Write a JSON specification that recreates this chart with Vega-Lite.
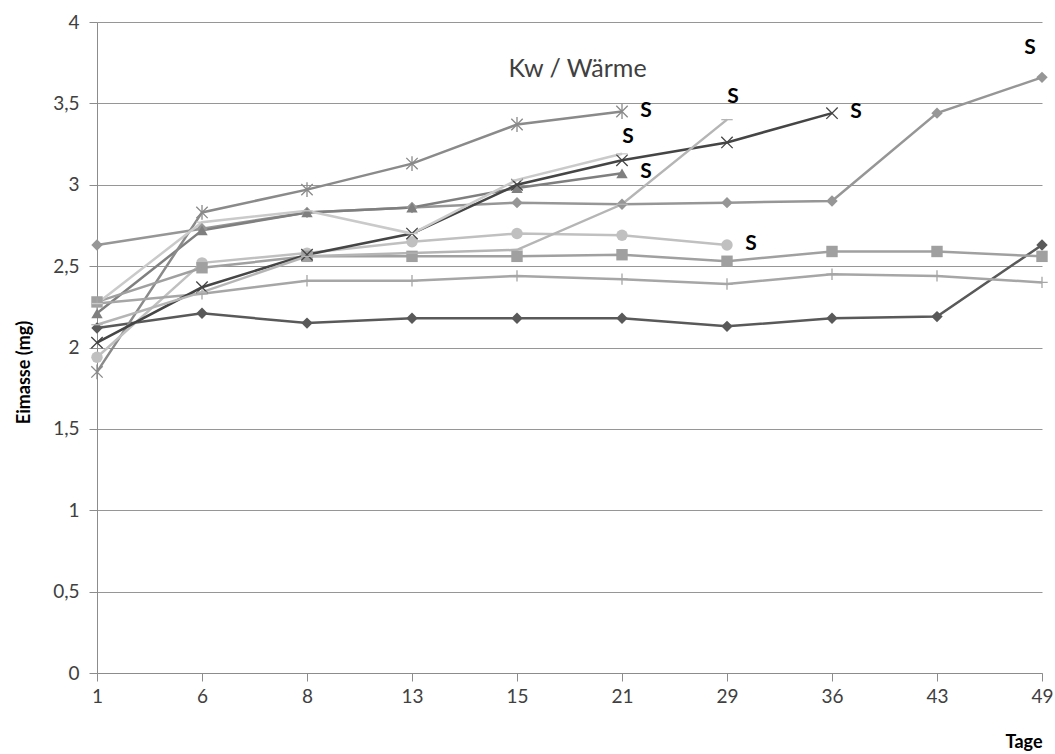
{
  "$schema": "https://vega.github.io/schema/vega-lite/v6.json",
  "width": 945,
  "height": 651,
  "autosize": "none",
  "padding": {"left": 97, "top": 22, "right": 13, "bottom": 81},
  "background": "white",
  "title": {"text": "Kw / Wärme", "font": "Lato", "fontSize": 25, "fontWeight": "normal", "color": "#404040", "anchor": "middle", "offset": 0, "dy": 69, "dx": 8},
  "config": {
    "view": {"stroke": null},
    "font": "Lato",
    "axis": {"labelFont": "Lato", "titleFont": "Lato", "labelColor": "#404040", "labelFontSize": 19, "domainColor": "#8c8c8c", "tickColor": "#8c8c8c", "tickSize": 8}
  },
  "data": {"values": [
    {"s": "A", "t": 1, "v": 2.12}, {"s": "A", "t": 6, "v": 2.21}, {"s": "A", "t": 8, "v": 2.15}, {"s": "A", "t": 13, "v": 2.18}, {"s": "A", "t": 15, "v": 2.18}, {"s": "A", "t": 21, "v": 2.18}, {"s": "A", "t": 29, "v": 2.13}, {"s": "A", "t": 36, "v": 2.18}, {"s": "A", "t": 43, "v": 2.19}, {"s": "A", "t": 49, "v": 2.63},
    {"s": "B", "t": 1, "v": 2.63}, {"s": "B", "t": 6, "v": 2.73}, {"s": "B", "t": 8, "v": 2.83}, {"s": "B", "t": 13, "v": 2.86}, {"s": "B", "t": 15, "v": 2.89}, {"s": "B", "t": 21, "v": 2.88}, {"s": "B", "t": 29, "v": 2.89}, {"s": "B", "t": 36, "v": 2.9}, {"s": "B", "t": 43, "v": 3.44}, {"s": "B", "t": 49, "v": 3.66},
    {"s": "C", "t": 1, "v": 2.21}, {"s": "C", "t": 6, "v": 2.72}, {"s": "C", "t": 8, "v": 2.83}, {"s": "C", "t": 13, "v": 2.86}, {"s": "C", "t": 15, "v": 2.98}, {"s": "C", "t": 21, "v": 3.07},
    {"s": "D", "t": 1, "v": 1.85}, {"s": "D", "t": 6, "v": 2.83}, {"s": "D", "t": 8, "v": 2.97}, {"s": "D", "t": 13, "v": 3.13}, {"s": "D", "t": 15, "v": 3.37}, {"s": "D", "t": 21, "v": 3.45},
    {"s": "E", "t": 1, "v": 1.94}, {"s": "E", "t": 6, "v": 2.52}, {"s": "E", "t": 8, "v": 2.58}, {"s": "E", "t": 13, "v": 2.65}, {"s": "E", "t": 15, "v": 2.7}, {"s": "E", "t": 21, "v": 2.69}, {"s": "E", "t": 29, "v": 2.63},
    {"s": "F", "t": 1, "v": 2.28}, {"s": "F", "t": 6, "v": 2.49}, {"s": "F", "t": 8, "v": 2.56}, {"s": "F", "t": 13, "v": 2.56}, {"s": "F", "t": 15, "v": 2.56}, {"s": "F", "t": 21, "v": 2.57}, {"s": "F", "t": 29, "v": 2.53}, {"s": "F", "t": 36, "v": 2.59}, {"s": "F", "t": 43, "v": 2.59}, {"s": "F", "t": 49, "v": 2.56},
    {"s": "G", "t": 1, "v": 2.27}, {"s": "G", "t": 6, "v": 2.33}, {"s": "G", "t": 8, "v": 2.41}, {"s": "G", "t": 13, "v": 2.41}, {"s": "G", "t": 15, "v": 2.44}, {"s": "G", "t": 21, "v": 2.42}, {"s": "G", "t": 29, "v": 2.39}, {"s": "G", "t": 36, "v": 2.45}, {"s": "G", "t": 43, "v": 2.44}, {"s": "G", "t": 49, "v": 2.4},
    {"s": "H", "t": 1, "v": 2.03}, {"s": "H", "t": 6, "v": 2.37}, {"s": "H", "t": 8, "v": 2.57}, {"s": "H", "t": 13, "v": 2.7}, {"s": "H", "t": 15, "v": 3.0}, {"s": "H", "t": 21, "v": 3.15}, {"s": "H", "t": 29, "v": 3.26}, {"s": "H", "t": 36, "v": 3.44},
    {"s": "I", "t": 1, "v": 2.14}, {"s": "I", "t": 6, "v": 2.34}, {"s": "I", "t": 8, "v": 2.56}, {"s": "I", "t": 13, "v": 2.58}, {"s": "I", "t": 15, "v": 2.6}, {"s": "I", "t": 21, "v": 2.88}, {"s": "I", "t": 29, "v": 3.4},
    {"s": "J", "t": 1, "v": 2.27}, {"s": "J", "t": 6, "v": 2.77}, {"s": "J", "t": 8, "v": 2.84}, {"s": "J", "t": 13, "v": 2.7}, {"s": "J", "t": 15, "v": 3.03}, {"s": "J", "t": 21, "v": 3.19}
  ]},
  "encoding": {
    "x": {"field": "t", "type": "ordinal", "sort": [1, 6, 8, 13, 15, 21, 29, 36, 43, 49], "scale": {"type": "point", "padding": 0},
      "axis": {"title": "Tage", "labelAngle": 0, "labelPadding": 6, "grid": false, "titleAnchor": "end", "titleAlign": "right", "titleX": 945, "titleY": 78, "titleBaseline": "bottom", "titleFontSize": 18, "titleFontWeight": "bold", "titleColor": "#000000"}},
    "y": {"field": "v", "type": "quantitative", "scale": {"domain": [0, 4], "nice": false},
      "axis": {"title": "Eimasse (mg)", "values": [0, 0.5, 1, 1.5, 2, 2.5, 3, 3.5, 4], "labelExpr": "replace(toString(datum.value), '.', ',')", "labelPadding": 10, "grid": true, "gridColor": "#969696", "gridWidth": 1, "titleX": -64, "titleY": 350, "titleAngle": -90, "titleAlign": "center", "titleBaseline": "bottom", "titleFontSize": 18, "titleFontWeight": "bold", "titleColor": "#000000"}},
    "color": {"field": "s", "type": "nominal", "legend": null,
      "scale": {"domain": ["A", "B", "C", "D", "E", "F", "G", "H", "I", "J"], "range": ["#595959", "#969696", "#7f7f7f", "#8a8a8a", "#c0c0c0", "#a0a0a0", "#a6a6a6", "#454545", "#b5b5b5", "#cacaca"]}}
  },
  "layer": [
    {"mark": {"type": "line", "strokeWidth": 2.5}},
    {"transform": [{"filter": "indexof(['A','B','C','E','F'], datum.s) >= 0"}],
     "mark": {"type": "point", "filled": true, "opacity": 1},
     "encoding": {
       "shape": {"field": "s", "type": "nominal", "legend": null, "scale": {"domain": ["A", "B", "C", "D", "E", "F", "G", "H", "I", "J"], "range": ["diamond", "diamond", "triangle-up", "M-1,-1L1,1M-1,1L1,-1M0,-1.3L0,1.3", "circle", "square", "M-1,0L1,0M0,-1L0,1", "M-1,-1L1,1M-1,1L1,-1", "M-1,0L1,0", "M-1,0L1,0"]}},
       "size": {"field": "s", "type": "nominal", "legend": null, "scale": {"domain": ["A", "B", "C", "D", "E", "F", "G", "H", "I", "J"], "range": [130, 130, 120, 150, 160, 160, 150, 150, 120, 120]}}
     }},
    {"transform": [{"filter": "indexof(['D','G','H','I','J'], datum.s) >= 0"}],
     "mark": {"type": "point", "filled": false, "opacity": 1, "strokeWidth": 1.3},
     "encoding": {
       "shape": {"field": "s", "type": "nominal", "legend": null},
       "size": {"field": "s", "type": "nominal", "legend": null}
     }},
    {"transform": [{"filter": "(datum.s == 'D' && datum.t == 21) || (datum.s == 'C' && datum.t == 21) || (datum.s == 'H' && datum.t == 36) || (datum.s == 'E' && datum.t == 29)"}],
     "mark": {"type": "text", "text": "S", "font": "Lato", "fontSize": 21, "fontWeight": "bold", "dx": 24, "dy": -1, "align": "center", "baseline": "middle"},
     "encoding": {"color": {"value": "#000000"}}},
    {"transform": [{"filter": "datum.s == 'J' && datum.t == 21"}],
     "mark": {"type": "text", "text": "S", "font": "Lato", "fontSize": 21, "fontWeight": "bold", "dx": 6, "dy": -17, "align": "center", "baseline": "middle"},
     "encoding": {"color": {"value": "#000000"}}},
    {"transform": [{"filter": "datum.s == 'I' && datum.t == 29"}],
     "mark": {"type": "text", "text": "S", "font": "Lato", "fontSize": 21, "fontWeight": "bold", "dx": 6, "dy": -23, "align": "center", "baseline": "middle"},
     "encoding": {"color": {"value": "#000000"}}},
    {"transform": [{"filter": "datum.s == 'B' && datum.t == 49"}],
     "mark": {"type": "text", "text": "S", "font": "Lato", "fontSize": 21, "fontWeight": "bold", "dx": -12, "dy": -29, "align": "center", "baseline": "middle"},
     "encoding": {"color": {"value": "#000000"}}}
  ]
}
